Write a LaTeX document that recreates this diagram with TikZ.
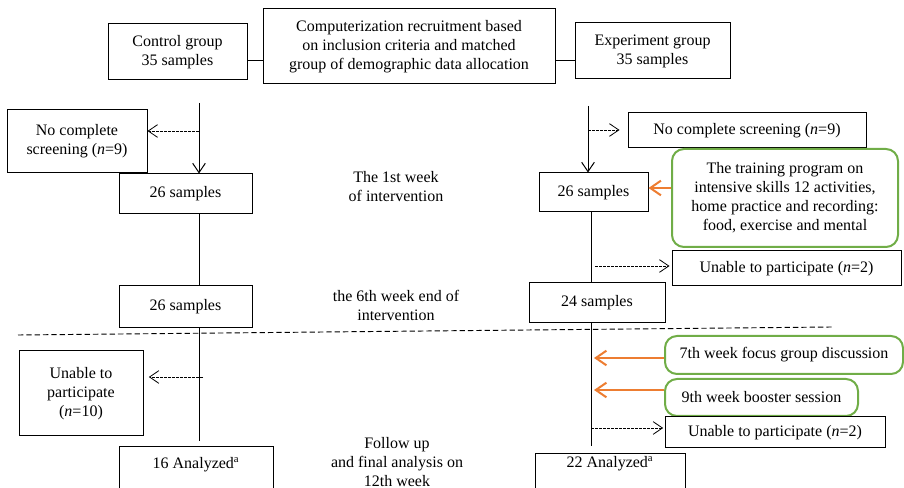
\documentclass[tikz,border=0pt]{standalone}
\usepackage{fontspec}
\setmainfont{Liberation Serif}
\usetikzlibrary{arrows.meta}
\definecolor{org}{HTML}{ED7D31}
\definecolor{grn}{HTML}{70AD47}
\begin{document}
\begin{tikzpicture}[x=0.75pt,y=-0.75pt,
  txt/.style={font=\fontsize{12}{14.25}\selectfont},
  box/.style={txt, draw, line width=0.75pt, inner sep=0pt, align=center},
  gbox/.style={box, draw=grn, line width=1.5pt, rounded corners=9pt},
  lbl/.style={txt, align=center, inner sep=0pt},
  ln/.style={line width=0.75pt},
  arr/.style={ln, -{Straight Barb[length=7pt,width=9.5pt]}},
  darr/.style={line width=0.6pt, dash pattern=on 2pt off 1pt, -{Straight Barb[length=7pt,width=9.5pt]}},
  oarr/.style={draw=org, line width=1.5pt, -{Straight Barb[length=8pt,width=11pt]}}]
\useasboundingbox (0,0) rectangle (904,488);
\clip (0,0) rectangle (904,488);

% boxes
\node[box, minimum width=104.25pt, minimum height=42pt] (ctrl) at (177.5,52) {Control group\\35 samples};
\node[box, minimum width=219pt, minimum height=56.25pt] (center) at (409,46.5) {Computerization recruitment based\\on inclusion criteria and matched\\group of demographic data allocation};
\node[box, minimum width=116.25pt, minimum height=42pt] (exp) at (652.5,51) {Experiment group\\35 samples};
\node[box, minimum width=105pt, minimum height=47.25pt] (ncsL) at (77,141.5) {No complete\\screening (\textit{n}=9)};
\node[box, minimum width=99.75pt, minimum height=30pt] (c26a) at (185.5,194) {26 samples};
\node[box, minimum width=178.5pt, minimum height=26.25pt] (ncsR) at (747,130.5) {No complete screening (\textit{n}=9)};
\node[box, minimum width=81.75pt, minimum height=29.25pt] (e26) at (593.5,192.5) {26 samples};
\node[gbox, minimum width=169.5pt, minimum height=73.5pt] (train) at (785,198) {The training program on\\intensive skills 12 activities,\\home practice and recording:\\food, exercise and mental};
\node[box, minimum width=171.75pt, minimum height=26.25pt] (unR1) at (786.5,268.5) {Unable to participate (\textit{n}=2)};
\node[box, minimum width=99.75pt, minimum height=31.5pt] (c26b) at (185.5,307) {26 samples};
\node[box, minimum width=102pt, minimum height=30pt] (e24) at (597,303) {24 samples};
\node[box, minimum width=93pt, minimum height=63.75pt] (unL) at (81,393.5) {Unable to\\participate\\(\textit{n}=10)};
\node[gbox, minimum width=178.5pt, minimum height=28.5pt] (fg7) at (784,355) {7th week focus group discussion};
\node[gbox, minimum width=144.75pt, minimum height=27.75pt] (bs9) at (761.5,397.5) {9th week booster session};
\node[box, minimum width=165pt, minimum height=23.25pt] (unR2) at (775,432.5) {Unable to participate (\textit{n}=2)};
\node[box, anchor=north, minimum width=115.5pt, text height=16.5pt, text depth=22.5pt] (a16) at (196,446) {16 Analyzed\textsuperscript{a}};
\node[box, anchor=north, minimum width=112.5pt, text height=10.5pt, text depth=25pt] (a22) at (610,453) {22 Analyzed\textsuperscript{a}};

% middle labels
\node[lbl] (wk1) at (396,187) {The 1st week\\of intervention};
\node[lbl] (wk6) at (396,305) {the 6th week end of\\intervention};
\node[lbl] (fu) at (397,462) {Follow up\\and final analysis on\\12th week};

% helper coordinates
\coordinate (y61) at (0,61);
\coordinate (cs) at (199,103);
\coordinate (dL1) at (199,131);
\coordinate (dL2) at (203,377);
\coordinate (lend) at (199,441);
\coordinate (es) at (588,106);
\coordinate (dR1) at (588,130);
\coordinate (ex) at (591,0);
\coordinate (dR2) at (595,266);
\coordinate (o1) at (0,188);
\coordinate (o2) at (594,358);
\coordinate (o3) at (594,390);
\coordinate (dR3) at (591,428);
\coordinate (rend) at (591,446);

% top connectors
\draw[ln] (ctrl.east |- y61) -- (center.west |- y61);
\draw[ln] (center.east |- y61) -- (exp.west |- y61);

% control arm
\draw[arr] (cs) -- (cs |- c26a.north);
\draw[darr] (dL1) -- (dL1 -| ncsL.east);
\draw[ln] (c26a.south -| cs) -- (c26b.north -| cs);
\draw[ln] (c26b.south -| lend) -- (lend);
\draw[darr, shorten >=4pt] (dL2) -- (dL2 -| unL.east);

% experiment arm
\draw[arr] (es) -- (es |- e26.north);
\draw[darr, shorten >=6pt] (dR1) -- (dR1 -| ncsR.west);
\draw[oarr] (train.west |- o1) -- (e26.east |- o1);
\draw[ln] (e26.south -| ex) -- (e24.north -| ex);
\draw[darr, shorten >=1.5pt] (dR2) -- (dR2 -| unR1.west);
\draw[ln] (e24.south -| rend) -- (rend);
\draw[oarr] (o2 -| fg7.west) -- (o2);
\draw[oarr] (o3 -| bs9.west) -- (o3);
\draw[darr, shorten >=1pt] (dR3) -- (dR3 -| unR2.west);

% separator
\draw[line width=0.7pt, dash pattern=on 4pt off 2.25pt] (18,335) -- (832,327);
\end{tikzpicture}
\end{document}
